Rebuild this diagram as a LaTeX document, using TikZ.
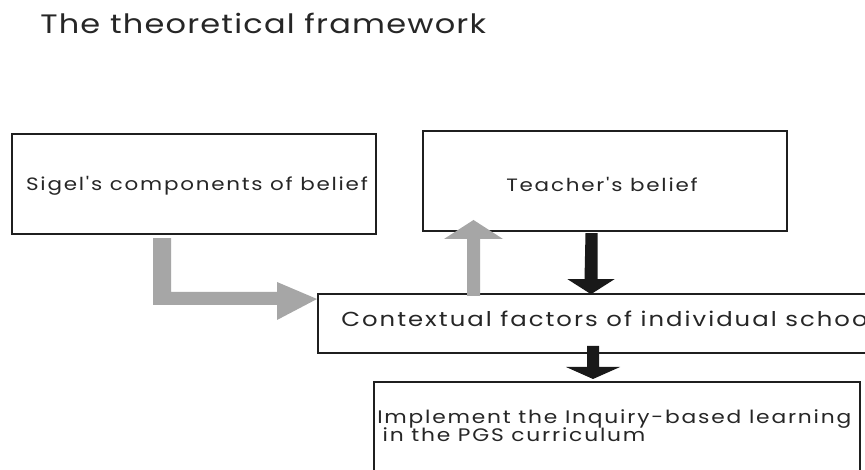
\documentclass[tikz,border=0pt]{standalone}
\usepackage{fontspec}
\setmainfont{Poppins}[Ligatures=TeXOff]
\newfontfamily\titlefont{Poppins}[Ligatures=TeXOff, FakeStretch=1.2, LetterSpace=4.5]
\newfontfamily\boxfont{Poppins}[Ligatures=TeXOff, FakeStretch=1.2, LetterSpace=10]
\usetikzlibrary{arrows.meta,calc}
\begin{document}
\begin{tikzpicture}[x=0.75pt,y=-0.75pt,
  box/.style={draw=black!88, line width=1.8pt, rectangle, inner sep=0pt},
  lbl/.style={inner sep=0pt, text=black!85},
  grayarrow/.style={draw=none, fill=black!35},
  blackarrow/.style={draw=none, fill=black!90}]
\useasboundingbox (0,0) rectangle (865,470);
\clip (0,0) rectangle (865,470);
\fill[white] (0,0) rectangle (865,470);

\node[lbl, anchor=base west, font=\titlefont\fontsize{20}{24}\selectfont] (title) at (40,34) {The theoretical framework};

\node[box, minimum width=273pt, minimum height=75pt] (sigel) at (194,184) {};
\node[lbl, font=\boxfont\fontsize{13.4}{15}\selectfont, anchor=base] (sigeltxt) at (197,191) {Sigel's components of belief};

\node[box, minimum width=273pt, minimum height=75pt] (teacher) at (605,181) {};
\node[lbl, font=\boxfont\fontsize{13.4}{15}\selectfont, anchor=base] (teachertxt) at (602,192) {Teacher's belief};

\node[box, minimum width=450pt, minimum height=44.25pt, anchor=north west] (ctx) at (317,293) {};
\node[lbl, font=\boxfont\fontsize{15.2}{17}\selectfont, anchor=base west] (ctxtxt) at (341,327) {Contextual factors of individual school};

\node[box, minimum width=364.5pt, minimum height=90pt, anchor=north west] (impl) at (373,381) {};
\node[lbl, font=\boxfont\fontsize{13.6}{15}\selectfont, anchor=base west, align=left] (impltxt) at (377,442) {Implement the Inquiry-based learning\\[-1pt]\hspace{4pt}in the PGS curriculum};

% gray elbow arrow
\fill[grayarrow] ($(sigel.south)+(-41,3)$) -- ++(18,0) |- ($(ctx.north west)+(-40,-1)$)
  -- ++(0,-10) -- ($(ctx.north west)+(0,6)$) -- ++(-40,21) -- ++(0,-15) -| cycle;
% gray up arrow
\fill[grayarrow] ($(ctx.north west)+(150,3)$) -- ++(0,-57) -- ++(-23,0) -- ++(29.5,-19) coordinate (tipg) -- ++(29.5,19) -- ++(-23,0) -- ++(0,57) -- cycle;
% black arrow 1
\fill[blackarrow] ($(teacher.south)+(-19.5,1)$) -- ++(12,0) -- ++(0,46) -- ++(17,0) -- ++(-23.5,15) coordinate (tip1) -- ++(-23.5,-15) -- ++(17,0) -- cycle;
% black arrow 2
\fill[blackarrow] ($(impl.north west)+(214,-35)$) -- ++(12,0) -- ++(0,21) -- ++(21,0) -- ++(-27,12) coordinate (tip2) -- ++(-27,-12) -- ++(21,0) -- cycle;
\end{tikzpicture}
\end{document}
